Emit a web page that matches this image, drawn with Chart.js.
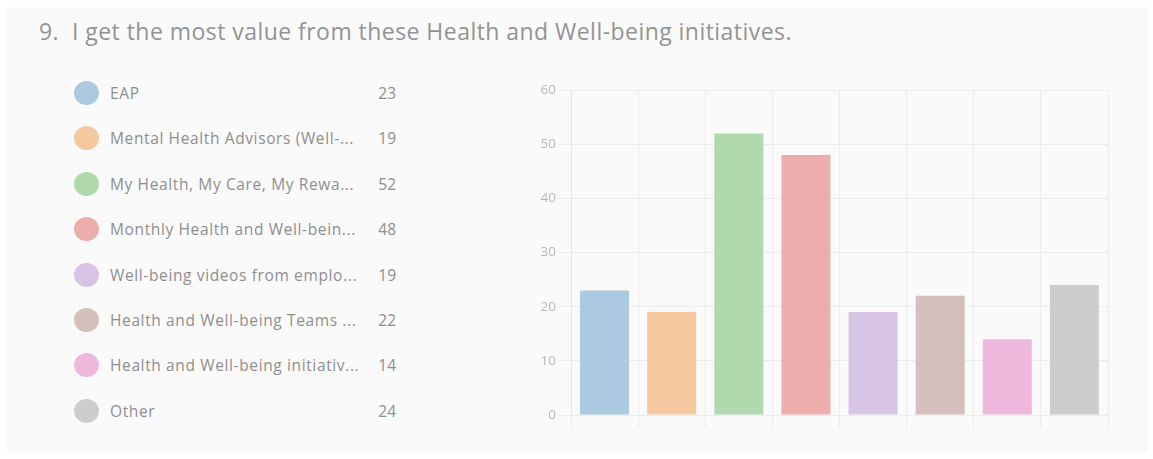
<!DOCTYPE html>
<html>
<head>
<meta charset="utf-8">
<script src="https://cdn.jsdelivr.net/npm/chart.js@4.4.0/dist/chart.umd.min.js"></script>
<style>
  html, body { margin: 0; padding: 0; background: #ffffff; }
  body { width: 1153px; height: 459px; position: relative; overflow: hidden; font-family: "Open Sans", "Noto Sans", sans-serif; }
  #card { position: absolute; left: 7px; top: 7px; width: 1141px; height: 446px; background: #fafafa; }
  #title { position: absolute; left: 39px; top: 15px; font-size: 23px; color: #939393; white-space: nowrap; }
  .row { position: absolute; left: 74px; width: 330px; height: 26px; }
  .dot { position: absolute; left: 0; top: 0px; width: 25px; height: 24px; border-radius: 50%; }
  .lab { position: absolute; left: 36px; top: 1px; font-size: 15.5px; color: #8e8e8e; white-space: nowrap; }
  .cnt { position: absolute; right: 8px; top: 1px; font-size: 15.5px; color: #8e8e8e; }
  #wrap { position: absolute; left: 520px; top: 80px; width: 600px; height: 360px; }
</style>
</head>
<body>
<div id="card"></div>
<div id="title">9.&nbsp; I get the most value from these Health and Well-being initiatives.</div>
<div id="legend"></div>
<div id="wrap"><canvas id="c"></canvas></div>
<script>
const categories = [
  "EAP",
  "Mental Health Advisors (Well-...",
  "My Health, My Care, My Rewa...",
  "Monthly Health and Well-bein...",
  "Well-being videos from emplo...",
  "Health and Well-being Teams ...",
  "Health and Well-being initiativ...",
  "Other"
];
const counts = [23, 19, 52, 48, 19, 22, 14, 24];
const colors = ["#abcae1", "#f5c8a0", "#b0d9ae", "#eeadad", "#d8c5e5", "#d4bfbd", "#edb8dc", "#cdcdcd"];
const yTicks = [0, 10, 20, 30, 40, 50, 60];

// Legend list
const legend = document.getElementById('legend');
const labEls = [];
categories.forEach((name, i) => {
  const row = document.createElement('div');
  row.className = 'row';
  row.style.top = (81 + i * 45.4) + 'px';
  const dot = document.createElement('div');
  dot.className = 'dot';
  dot.style.background = colors[i];
  const lab = document.createElement('div');
  lab.className = 'lab';
  lab.textContent = name;
  const cnt = document.createElement('div');
  cnt.className = 'cnt';
  cnt.textContent = counts[i];
  row.appendChild(dot); row.appendChild(lab); row.appendChild(cnt);
  legend.appendChild(row);
  labEls.push(lab);
});

function spacingFor(el, target) {
  el.style.letterSpacing = '0px';
  const w = el.getBoundingClientRect().width;
  const n = el.textContent.length;
  return (target - w) / n;
}
function fitText() {
  const t = document.getElementById('title');
  t.style.letterSpacing = spacingFor(t, 753) + 'px';
  const ls = spacingFor(labEls[1], 244);
  labEls.forEach(l => { l.style.letterSpacing = ls + 'px'; });
}
fitText();
if (document.fonts && document.fonts.ready) document.fonts.ready.then(fitText);

const gridColor = '#ececec';
new Chart(document.getElementById('c'), {
  type: 'bar',
  data: {
    labels: categories,
    datasets: [{
      data: counts,
      backgroundColor: colors,
      borderWidth: 0,
      barPercentage: 0.73,
      categoryPercentage: 1.0
    }]
  },
  options: {
    responsive: true,
    maintainAspectRatio: false,
    animation: false,
    layout: { padding: { top: 10, right: 12, left: 0, bottom: 0 } },
    plugins: { legend: { display: false }, tooltip: { enabled: false } },
    scales: {
      x: {
        grid: {
          color: (ctx) => (ctx.index === categories.length ? 'rgba(0,0,0,0)' : gridColor),
          tickLength: 13,
          drawTicks: true
        },
        border: { display: false },
        ticks: { display: false },
        afterFit: (s) => { s.height = 25; }
      },
      y: {
        min: 0,
        max: 60,
        afterBuildTicks: (s) => { s.ticks = yTicks.map(v => ({ value: v })); },
        grid: { color: gridColor, tickLength: 13 },
        border: { color: '#e4e4e4' },
        ticks: {
          color: '#b8b8b8',
          padding: 2,
          font: { family: '"Open Sans", sans-serif', size: 13.5 }
        },
        afterFit: (s) => { s.width = 51; }
      }
    }
  }
});
</script>
</body>
</html>
